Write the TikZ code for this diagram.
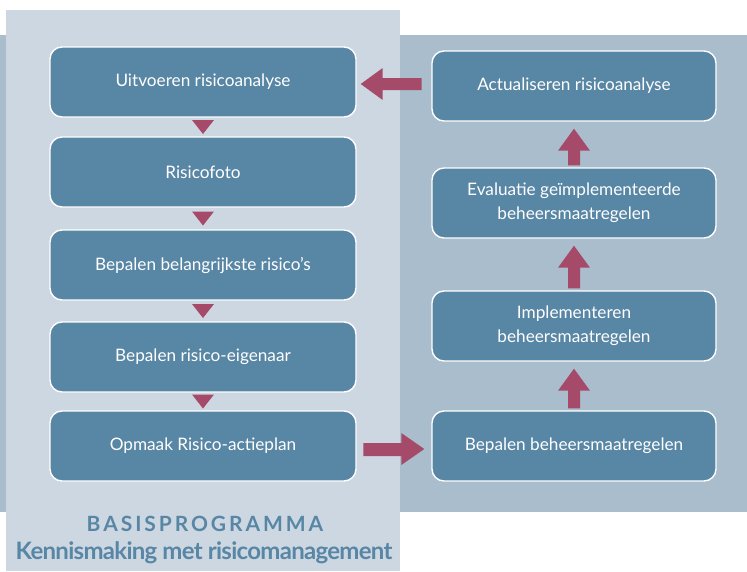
\documentclass[tikz,border=0pt]{standalone}
\usepackage{fontspec}
\setmainfont{Lato}
\usetikzlibrary{calc}
\definecolor{darkpanel}{HTML}{A9BDCC}
\definecolor{lightpanel}{HTML}{CDD7E1}
\definecolor{boxfill}{HTML}{5886A5}
\definecolor{arrowc}{HTML}{A64A6A}
\tikzset{
  stepbox/.style={draw=white, line width=1.4pt, fill=boxfill, rounded corners=12pt, text=white, font=\fontsize{17.2}{24}\selectfont, align=center, inner sep=0pt, minimum height=70pt},
  lbox/.style={stepbox, minimum width=306pt},
  rbox/.style={stepbox, minimum width=284pt},
  tri/.style={fill=arrowc, draw=none},
  fat/.style={fill=arrowc, draw=none}
}
\begin{document}
\begin{tikzpicture}[x=1pt,y=-1pt]
\useasboundingbox (0,0) rectangle (747,571);
\fill[darkpanel] (0,35) rectangle (747,512);
\fill[lightpanel] (6,10) rectangle (400,571);
% left boxes
\node[lbox] (l1) at (203,82) {Uitvoeren risicoanalyse};
\node[lbox] (l2) at (203,172) {Risicofoto};
\node[lbox] (l3) at (203,265) {Bepalen belangrijkste risico’s};
\node[lbox] (l4) at (203,357) {Bepalen risico-eigenaar};
\node[lbox] (l5) at (203,446) {Opmaak Risico-actieplan};
% right boxes
\node[rbox] (r1) at (574,86) {Actualiseren risicoanalyse};
\node[rbox] (r2) at (574,203) {Evaluatie geïmplementeerde\\beheersmaatregelen};
\node[rbox] (r3) at (574,326) {Implementeren\\beheersmaatregelen};
\node[rbox] (r4) at (574,446) {Bepalen beheersmaatregelen};
% down triangles
\foreach \a/\b in {l1/l2,l2/l3,l3/l4,l4/l5}{
  \coordinate (m) at ($(\a.south)!0.5!(\b.north)$);
  \fill[tri] ($(m)+(-11,-7)$) -- ($(m)+(11,-7)$) -- ($(m)+(0,7)$) -- cycle;
}
% up arrows on right
\foreach \a/\b in {r4/r3,r3/r2,r2/r1}{
  \coordinate (s) at ($(\a.north)+(0,-2)$);
  \coordinate (e) at ($(\b.south)+(0,7)$);
  \fill[fat] ($(s)+(-6,0)$) -- ($(e)+(-6,22)$) -- ($(e)+(-16,22)$) -- (e) -- ($(e)+(16,22)$) -- ($(e)+(6,22)$) -- ($(s)+(6,0)$) -- cycle;
}
% left-pointing arrow
\coordinate (la) at ($(l1.east)+(4,2)$);
\fill[fat] (la) -- ++(22,-16) -- ++(0,10) -- ++(39,0) -- ++(0,12) -- ++(-39,0) -- ++(0,10) -- cycle;
% right-pointing arrow
\coordinate (ra) at ($(r4.west)+(-7,3)$);
\fill[fat] (ra) -- ++(-23,-16) -- ++(0,10) -- ++(-38,0) -- ++(0,13) -- ++(38,0) -- ++(0,9) -- cycle;
% titles
\node[text=boxfill, font=\fontsize{21}{24}\selectfont\bfseries\addfontfeature{LetterSpace=14}] (t1) at (205,524) {BASISPROGRAMMA};
\node[text=boxfill, font=\fontsize{24}{28}\selectfont\bfseries\addfontfeature{LetterSpace=-3}] (t2) at (204,553) {Kennismaking met risicomanagement};
\end{tikzpicture}
\end{document}
